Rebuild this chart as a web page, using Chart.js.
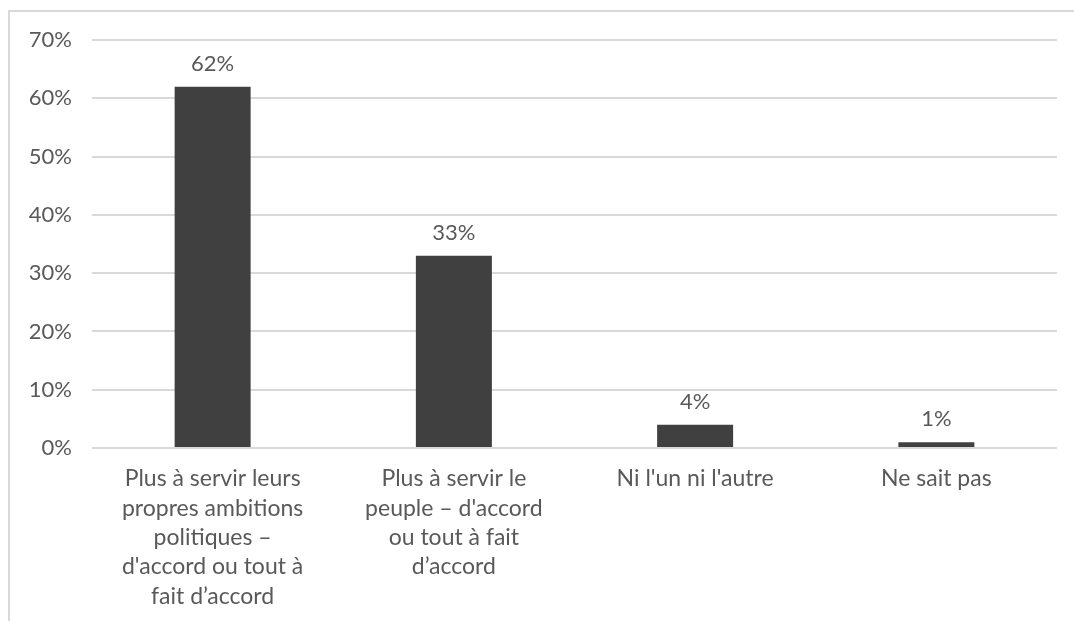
<!DOCTYPE html>
<html>
<head>
<meta charset="utf-8">
<script src="https://cdn.jsdelivr.net/npm/chart.js@4/dist/chart.umd.min.js"></script>
<style>
  html, body { margin: 0; padding: 0; background: #fff; }
  #cadre {
    position: absolute; left: 8px; top: 10px; width: 1066px; height: 611px;
    border-left: 2px solid #d9d9d9; border-top: 2px solid #d9d9d9; box-sizing: border-box;
  }
  #graph { display: block; }
</style>
</head>
<body>
<div id="cadre"><canvas id="graph" width="1064" height="609"></canvas></div>
<script>
// donnees
const categories = [
  ['Plus à servir leurs', 'propres ambitions', 'politiques –', "d'accord ou tout à", 'fait d’accord'],
  ['Plus à servir le', "peuple – d'accord", 'ou tout à fait', 'd’accord'],
  ["Ni l'un ni l'autre"],
  ['Ne sait pas']
];
const valeurs = [62, 33, 4, 1];
const graduations = [0, 10, 20, 30, 40, 50, 60, 70];

const police = '"Lato", "Noto Sans", sans-serif';
const gris = '#595959';

// petites etiquettes au-dessus des barres
const etiquettes = {
  id: 'etiquettes',
  afterDatasetsDraw(chart) {
    const ctx = chart.ctx;
    const meta = chart.getDatasetMeta(0);
    ctx.save();
    ctx.font = '22px ' + police;
    ctx.fillStyle = gris;
    ctx.textAlign = 'center';
    ctx.textBaseline = 'bottom';
    meta.data.forEach((bar, i) => {
      ctx.fillText(valeurs[i] + '%', bar.x, bar.y - 12);
    });
    ctx.restore();
  }
};

new Chart(document.getElementById('graph'), {
  type: 'bar',
  data: {
    labels: categories,
    datasets: [{
      data: valeurs,
      backgroundColor: '#404040',
      categoryPercentage: 1,
      barPercentage: 0.315,
    }],
  },
  options: {
    responsive: false,
    animation: false,
    layout: { padding: { top: 28, right: 17, left: 0, bottom: 0 } },
    plugins: {
      legend: { display: false },
      tooltip: { enabled: false },
    },
    scales: {
      y: {
        min: 0,
        max: 70,
        afterBuildTicks: (s) => { s.ticks = graduations.map((v) => ({ value: v })); },
        afterFit: (s) => { s.width = 82; s.paddingTop = 0; s.paddingBottom = 0; },
        border: { display: false },
        grid: { color: '#d9d9d9', lineWidth: 2, drawTicks: false },
        ticks: {
          color: gris,
          padding: 20,
          font: { family: police, size: 22 },
          callback: (v) => v + '%',
        },
      },
      x: {
        afterFit: (s) => { s.height = 173; s.paddingLeft = 0; s.paddingRight = 0; },
        border: { display: false },
        grid: { display: false },
        ticks: {
          color: gris,
          padding: 8,
          maxRotation: 0,
          autoSkip: false,
          font: { family: police, size: 23, lineHeight: 1.28 },
        },
      },
    },
  },
  plugins: [etiquettes],
});
</script>
</body>
</html>
